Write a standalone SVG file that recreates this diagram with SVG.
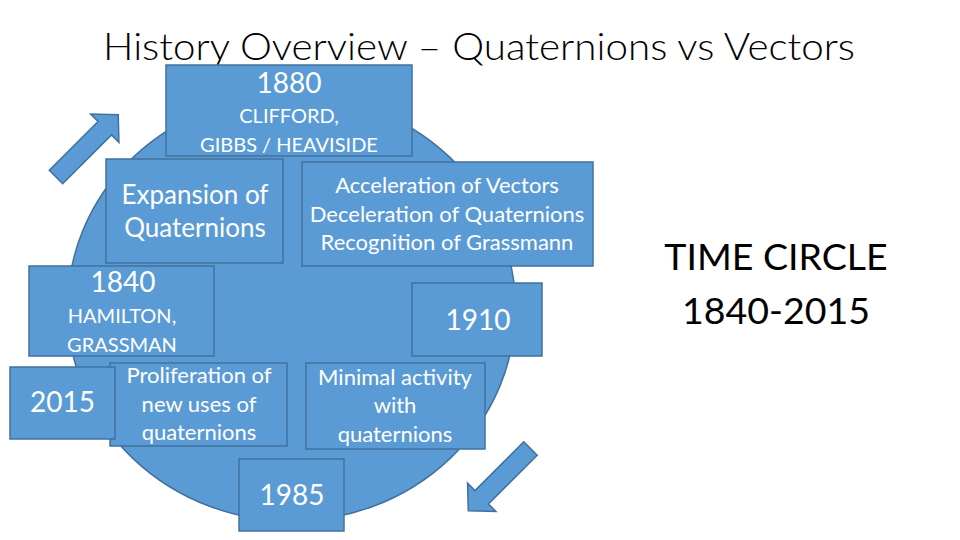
<svg xmlns="http://www.w3.org/2000/svg" width="960" height="540" viewBox="0 0 960 540">
<defs>
<style>
.shape{fill:#5B9BD5;stroke:#41719C;stroke-width:1.5}
.t{font-family:Lato,"Liberation Sans",sans-serif;fill:#FFFFFF;text-anchor:middle}
.yr{font-size:28px}
.s20{font-size:20px}
.s22{font-size:22px}
.s26{font-size:26px}
.dark{font-family:Lato,"Liberation Sans",sans-serif;fill:#000000}
</style>
<path id="blockArrow" d="M0,-9.5 H69 V-20 L88,0 L69,20 V9.5 H0 Z"/>
</defs>
<rect width="960" height="540" fill="#FFFFFF"/>
<g id="title">
<text class="dark" x="103" y="60" font-size="38" font-weight="300" textLength="752" lengthAdjust="spacingAndGlyphs">History Overview – Quaternions vs Vectors</text>
</g>
<g id="time-circle">
<ellipse class="shape" cx="291.5" cy="308" rx="224" ry="213"/>
</g>
<g id="arrows">
<use href="#blockArrow" class="shape" transform="translate(56,177) rotate(-45)"/>
<use href="#blockArrow" class="shape" transform="translate(530.5,448.5) rotate(135)"/>
</g>
<g id="node-1880">
<rect class="shape" x="166" y="65" width="246" height="91"/>
<text class="t yr" x="289" y="93">1880</text>
<text class="t s20" x="289" y="123">CLIFFORD,</text>
<text class="t s20" x="289" y="152">GIBBS / HEAVISIDE</text>
</g>
<g id="node-expansion">
<rect class="shape" x="106" y="159" width="177" height="104"/>
<text class="t s26" x="195" y="204">Expansion of</text>
<text class="t s26" x="195" y="237">Quaternions</text>
</g>
<g id="node-acceleration">
<rect class="shape" x="302" y="162" width="291" height="104"/>
<text class="t s22" x="447" y="193">Acceleration of Vectors</text>
<text class="t s22" x="447" y="222">Deceleration of Quaternions</text>
<text class="t s22" x="447" y="250">Recognition of Grassmann</text>
</g>
<g id="node-1840">
<rect class="shape" x="29" y="266" width="185" height="90"/>
<text class="t yr" x="123" y="292">1840</text>
<text class="t s20" x="122" y="323">HAMILTON,</text>
<text class="t s20" x="122" y="352">GRASSMAN</text>
</g>
<g id="node-1910">
<rect class="shape" x="412" y="283" width="130" height="73"/>
<text class="t yr" x="478" y="330">1910</text>
</g>
<g id="node-proliferation">
<rect class="shape" x="110" y="363" width="177" height="83"/>
<text class="t s22" x="199" y="383">Proliferation of</text>
<text class="t s22" x="199" y="412">new uses of</text>
<text class="t s22" x="199" y="440">quaternions</text>
</g>
<g id="node-2015">
<rect class="shape" x="10" y="367" width="105" height="72"/>
<text class="t yr" x="62.5" y="412">2015</text>
</g>
<g id="node-minimal">
<rect class="shape" x="306" y="363" width="179" height="86"/>
<text class="t s22" x="395" y="385">Minimal activity</text>
<text class="t s22" x="395" y="413">with</text>
<text class="t s22" x="395" y="442">quaternions</text>
</g>
<g id="node-1985">
<rect class="shape" x="239" y="459" width="105" height="72"/>
<text class="t yr" x="292" y="505">1985</text>
</g>
<g id="caption">
<text class="dark" x="776" y="270" font-size="37.5" text-anchor="middle">TIME CIRCLE</text>
<text class="dark" x="776" y="324" font-size="37.5" text-anchor="middle">1840-2015</text>
</g>
</svg>
